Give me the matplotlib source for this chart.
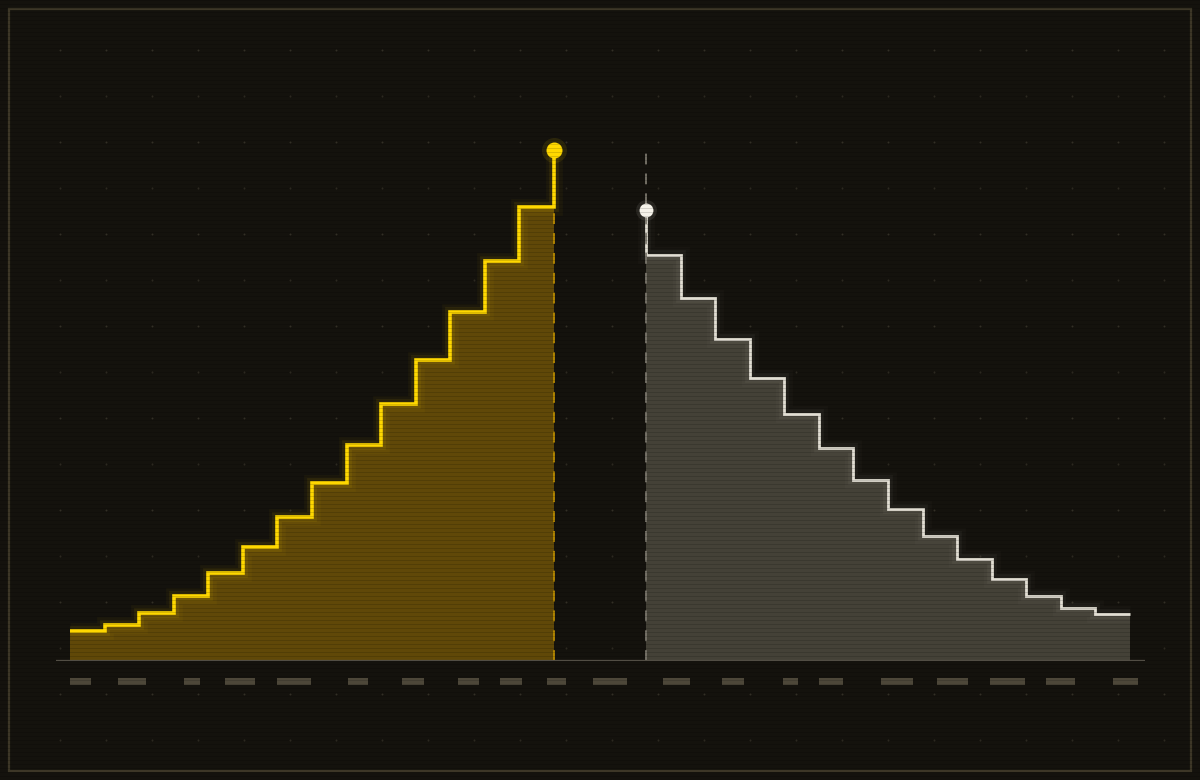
import numpy as np
import matplotlib.pyplot as plt
from matplotlib.patches import Rectangle

# Series values (peak of the rising series = 100)
rise = [5.9, 7.0, 9.4, 12.7, 17.2, 22.3, 28.2, 34.8, 42.3, 50.3, 58.9, 68.3, 78.3, 88.8, 100.0]
fall = [88.3, 79.5, 71.0, 63.0, 55.4, 48.3, 41.7, 35.4, 29.7, 24.5, 20.0, 16.0, 12.7, 10.4, 9.2]
gap = 2.66  # steps between the two series

# redacted tick labels under the axis: (start px, width px)
label_spans = [(70, 21), (118, 28), (184, 16), (225, 30), (277, 34), (348, 20),
               (402, 22), (458, 21), (500, 22), (547, 19), (593, 34), (663, 27),
               (722, 22), (783, 15), (819, 24), (881, 32), (937, 31), (990, 35),
               (1046, 29), (1113, 25)]

bg = '#14120d'
yellow = '#ffd800'
pale = '#e2ded3'

fig = plt.figure(figsize=(12, 7.8), dpi=100, facecolor=bg)

# background layer in pixel coords: frame, dot grid, label blocks
back = fig.add_axes([0, 0, 1, 1], zorder=0)
back.set_xlim(0, 1200)
back.set_ylim(780, 0)
back.axis('off')
back.set_facecolor(bg)
back.add_patch(Rectangle((8.5, 8.5), 1182, 762, fill=False, ec='#3d3727', lw=1.6))
gx, gy = np.meshgrid(np.arange(60, 1190, 46), np.arange(50, 770, 46))
back.scatter(gx.ravel(), gy.ravel(), s=2, c='#322f26', lw=0)
for x0, w in label_spans:
    back.add_patch(Rectangle((x0, 678), w, 7, fc='#4d4739', ec='none'))

# main chart
ax = fig.add_axes([56 / 1200, 119 / 780, 1089 / 1200, 110 * 5.11 / 780], zorder=1)
ax.set_facecolor('none')
ax.set_xlim(-0.405, 31.096)
ax.set_ylim(0, 110)
ax.axis('off')

xl = np.arange(len(rise))
xr = np.arange(len(fall)) + len(rise) - 1 + gap

ax.fill_between(xl, rise, step='post', color='#604808', lw=0)
ax.fill_between(xr, fall, step='pre', color='#444137', lw=0)

# glow + lines
for lw, a in [(12, 0.04), (7, 0.08)]:
    ax.step(xl, rise, where='post', color=yellow, lw=lw, alpha=a, solid_joinstyle='miter', solid_capstyle='butt')
    ax.step(xr, fall, where='pre', color=pale, lw=lw, alpha=a * 0.6, solid_joinstyle='miter', solid_capstyle='butt')
ax.step(xl, rise, where='post', color=yellow, lw=2.6, solid_joinstyle='miter', solid_capstyle='butt')
ax.step(xr, fall, where='pre', color=pale, lw=2.0, solid_joinstyle='miter', solid_capstyle='butt')

# dashed edges
ax.plot([xl[-1], xl[-1]], [0, rise[-2]], color='#b98a00', lw=1.3, ls=(0, (6, 5)))
ax.plot([xr[0], xr[0]], [0, max(rise)], color='#7a766c', lw=1.3, ls=(0, (6, 5)))

ax.axhline(0, color='#5e5a4f', lw=1.6)

# end markers
for ms, a in [(18, 0.1)]:
    ax.plot(xl[-1], rise[-1], 'o', ms=ms, color=yellow, alpha=a, mec='none')
    ax.plot(xr[0], fall[0], 'o', ms=ms - 3, color=pale, alpha=a, mec='none')
ax.plot(xl[-1], rise[-1], 'o', ms=11.5, color=yellow, mec='none')
ax.plot(xr[0], fall[0], 'o', ms=10, color='#f6f3ea', mec='none')

# scanline overlay
lines = np.zeros((780, 1200, 4))
lines[::4, :, 3] = 0.14
top = fig.add_axes([0, 0, 1, 1], zorder=5)
top.imshow(lines, interpolation='nearest', aspect='auto')
top.axis('off')

fig.savefig('out.png', dpi=100, facecolor=bg)
